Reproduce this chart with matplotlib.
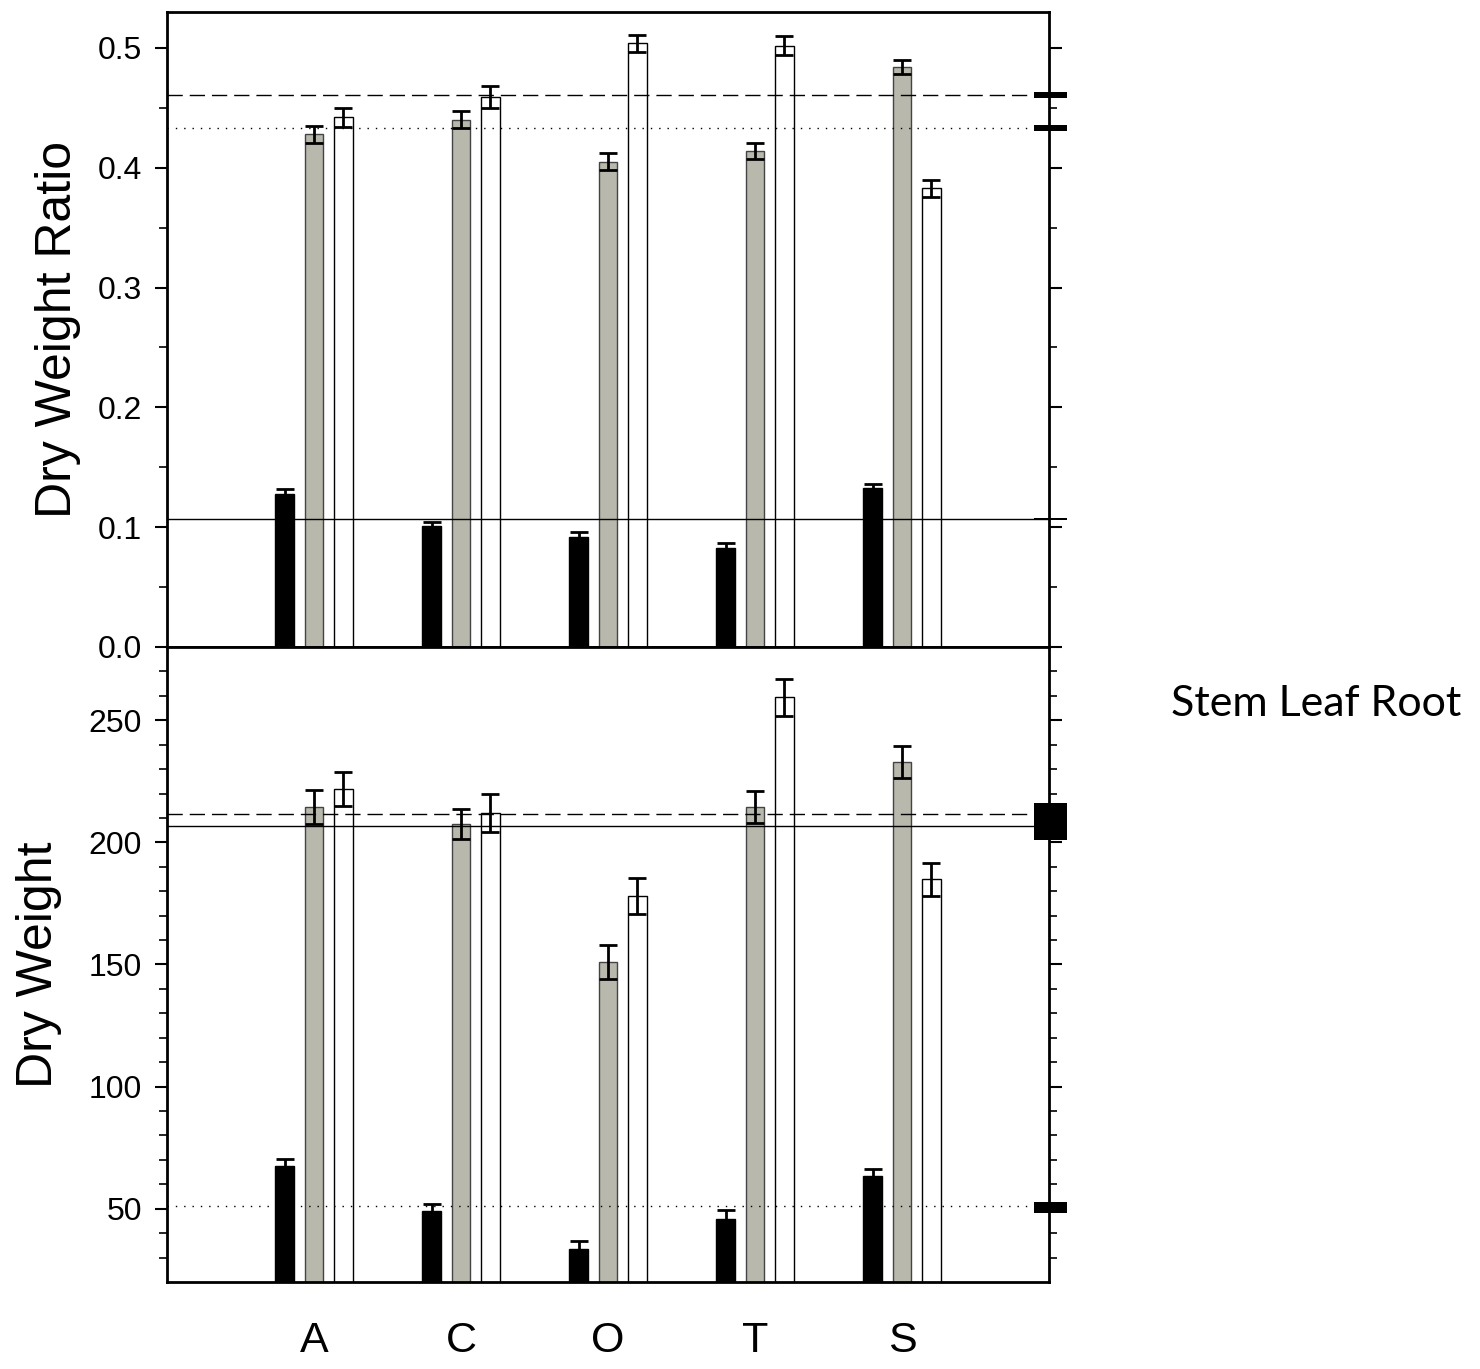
import matplotlib
matplotlib.use("Agg")
import matplotlib.pyplot as plt
import matplotlib.transforms as mtransforms
from matplotlib.patches import Rectangle
import numpy as np

plt.rcParams['font.family'] = ['Liberation Sans', 'DejaVu Sans']

categories = ['A', 'C', 'O', 'T', 'S']
series_names = ['Stem', 'Leaf', 'Root']

# Top panel: dry weight ratio
ratio_stem = [0.128, 0.101, 0.092, 0.083, 0.133]
ratio_leaf = [0.428, 0.440, 0.405, 0.414, 0.484]
ratio_root = [0.442, 0.459, 0.504, 0.502, 0.383]
ratio_stem_err = [0.004, 0.003, 0.004, 0.004, 0.003]
ratio_leaf_err = [0.007, 0.007, 0.007, 0.007, 0.006]
ratio_root_err = [0.008, 0.009, 0.007, 0.008, 0.007]
ratio_means = {'Stem': 0.107, 'Leaf': 0.433, 'Root': 0.461}
ratio_mean_bands = {'Stem': (0.106, 0.108), 'Leaf': (0.4305, 0.4355), 'Root': (0.4585, 0.4635)}

# Bottom panel: dry weight
dw_stem = [67.3, 48.9, 33.7, 46.0, 63.6]
dw_leaf = [214.4, 207.5, 151.0, 214.5, 233.0]
dw_root = [221.8, 212.0, 178.0, 259.4, 184.9]
dw_stem_err = [3.0, 3.0, 3.0, 3.5, 2.5]
dw_leaf_err = [7.0, 6.0, 7.0, 6.4, 6.5]
dw_root_err = [7.0, 7.7, 7.3, 7.6, 6.8]
dw_means = {'Stem': 51.0, 'Leaf': 206.6, 'Root': 211.6}
dw_mean_bands = {'Stem': (48.3, 52.8), 'Leaf': (201.0, 211.0), 'Root': (207.0, 216.0)}

colors = {'Stem': '#000000', 'Leaf': '#B8B8AC', 'Root': '#FFFFFF'}
edges = {'Stem': '#000000', 'Leaf': '#444444', 'Root': '#000000'}
offsets = {'Stem': -0.2, 'Leaf': 0.0, 'Root': 0.2}
line_styles = {
    'top': {'Stem': '-', 'Leaf': (0, (1, 5)), 'Root': (0, (11, 5))},
    'bot': {'Stem': (0, (1, 5)), 'Leaf': '-', 'Root': (0, (11, 5))},
}

fig = plt.figure(figsize=(14.8, 13.69), dpi=100)
L, W = 167 / 1480, 882 / 1480
ax1 = fig.add_axes([L, 1 - 647 / 1369, W, 635 / 1369])
ax2 = fig.add_axes([L, 1 - 1282 / 1369, W, 635 / 1369])

x = np.arange(len(categories))
bw = 0.125


def draw(ax, data, errs, means, bands, styles):
    for name in series_names:
        ax.bar(x + offsets[name], data[name], width=bw, color=colors[name],
               edgecolor=edges[name], linewidth=1.0, zorder=2)
        ax.errorbar(x + offsets[name], data[name], yerr=errs[name], fmt='none',
                    ecolor='black', elinewidth=2.0, capsize=6.5, capthick=2.0, zorder=3)
    for name in series_names:
        ax.axhline(means[name], color='black', linestyle=styles[name], linewidth=1.0, zorder=4)
    trans = mtransforms.blended_transform_factory(ax.transAxes, ax.transData)
    for name in series_names:
        lo, hi = bands[name]
        ax.add_patch(Rectangle((0.983, lo), 0.0375, hi - lo, transform=trans,
                               facecolor='black', edgecolor='none', clip_on=False, zorder=5))
    ax.set_xlim(-1, 5)
    for s in ax.spines.values():
        s.set_linewidth(2.0)
    ax.tick_params(axis='y', which='both', left=True, right=True, direction='out',
                   labelsize=23, pad=9)
    ax.tick_params(axis='y', which='major', length=9, width=1.5)
    ax.tick_params(axis='y', which='minor', length=6, width=1.2)
    ax.tick_params(axis='x', length=0)


draw(ax1,
     {'Stem': ratio_stem, 'Leaf': ratio_leaf, 'Root': ratio_root},
     {'Stem': ratio_stem_err, 'Leaf': ratio_leaf_err, 'Root': ratio_root_err},
     ratio_means, ratio_mean_bands, line_styles['top'])
ax1.set_ylim(0, 0.53)
ax1.set_yticks([0.0, 0.1, 0.2, 0.3, 0.4, 0.5])
ax1.set_yticklabels(['0.0', '0.1', '0.2', '0.3', '0.4', '0.5'])
ax1.set_yticks(np.arange(0.05, 0.53, 0.1), minor=True)
ax1.set_xticks([])
ax1.set_ylabel('Dry Weight Ratio', fontsize=36, labelpad=12)

draw(ax2,
     {'Stem': dw_stem, 'Leaf': dw_leaf, 'Root': dw_root},
     {'Stem': dw_stem_err, 'Leaf': dw_leaf_err, 'Root': dw_root_err},
     dw_means, dw_mean_bands, line_styles['bot'])
ax2.set_ylim(20, 280)
ax2.set_yticks([50, 100, 150, 200, 250])
ax2.set_yticks([30, 40, 60, 70, 80, 90, 110, 120, 130, 140, 160, 170, 180, 190,
                210, 220, 230, 240, 260, 270], minor=True)
ax2.set_xticks(x)
ax2.set_xticklabels(categories, fontsize=31)
ax2.tick_params(axis='x', pad=28)
ax2.set_ylabel('Dry Weight', fontsize=36, labelpad=19)

fig.text(1316 / 1480, 1 - 704 / 1369, ' '.join(series_names), fontsize=31,
         family=['Lato', 'DejaVu Sans'], ha='center', va='center')

fig.savefig('out.png', dpi=100)
